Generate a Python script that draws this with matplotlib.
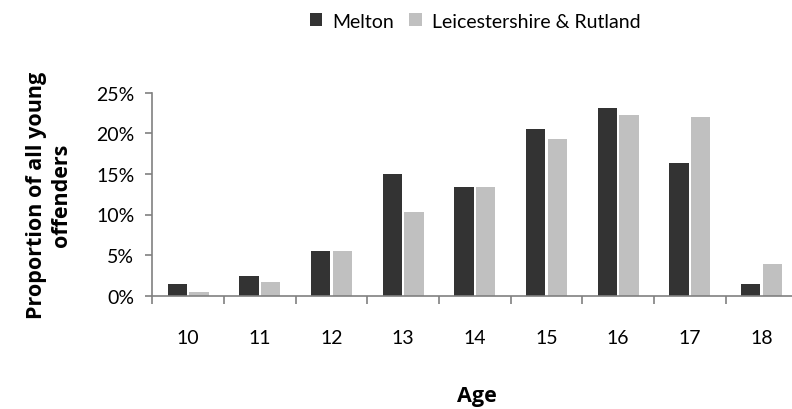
import matplotlib
matplotlib.use('Agg')
import matplotlib.pyplot as plt
import numpy as np

# share of all young offenders by age (%)
ages = ['10', '11', '12', '13', '14', '15', '16', '17', '18']
melton = [1.4, 2.4, 5.5, 15.0, 13.4, 20.5, 23.1, 16.4, 1.4]
leics_rutland = [0.4, 1.7, 5.5, 10.3, 13.4, 19.3, 22.3, 22.0, 3.9]
y_ticks = [0, 5, 10, 15, 20, 25]

plt.rcParams['font.family'] = ['Lato', 'DejaVu Sans']
plt.rcParams['font.size'] = 14

fig = plt.figure(figsize=(7.92, 4.10), dpi=100)
ax = fig.add_axes([152.3 / 792, 113.3 / 410, 645.0 / 792, 203.0 / 410])

x = np.arange(len(ages)) + 0.5
w = 0.27
ax.bar(x - 0.15, melton, w, color='#333333', label='Melton')
ax.bar(x + 0.15, leics_rutland, w, color='#c0c0c0',
       label='Leicestershire & Rutland')

ax.set_xlim(0, len(ages))
ax.set_ylim(0, 25)
ax.set_xticks(x)
ax.set_xticklabels(ages)
ax.set_xticks(np.arange(len(ages) + 1), minor=True)
ax.set_yticks(y_ticks)
ax.set_yticklabels([f'{v}%' for v in y_ticks])

ax.tick_params(axis='x', which='major', length=0, pad=24)
ax.tick_params(axis='x', which='minor', length=6, width=1.2,
               color='#808080', direction='out')
ax.tick_params(axis='y', length=5, width=1.2, color='#808080', pad=8)

for side in ['top', 'right']:
    ax.spines[side].set_visible(False)
for side in ['left', 'bottom']:
    ax.spines[side].set_color('#808080')
    ax.spines[side].set_linewidth(1.2)

label_font = dict(family=['Open Sans', 'DejaVu Sans'], fontweight='bold',
                  fontsize=15.5)
fig.text(49 / 792, 1 - 195 / 410, 'Proportion of all young\noffenders',
         rotation=90, ha='center', va='center', multialignment='center',
         linespacing=1.3, **label_font)
fig.text(477 / 792, 1 - 397 / 410, 'Age', ha='center', va='center',
         **label_font)

fig.legend(loc='center', bbox_to_anchor=(475 / 792, 1 - 22 / 410), ncol=2,
           frameon=False, handlelength=0.65, handleheight=0.65,
           handletextpad=0.5, columnspacing=0.8)

fig.savefig('out.png', dpi=100)
